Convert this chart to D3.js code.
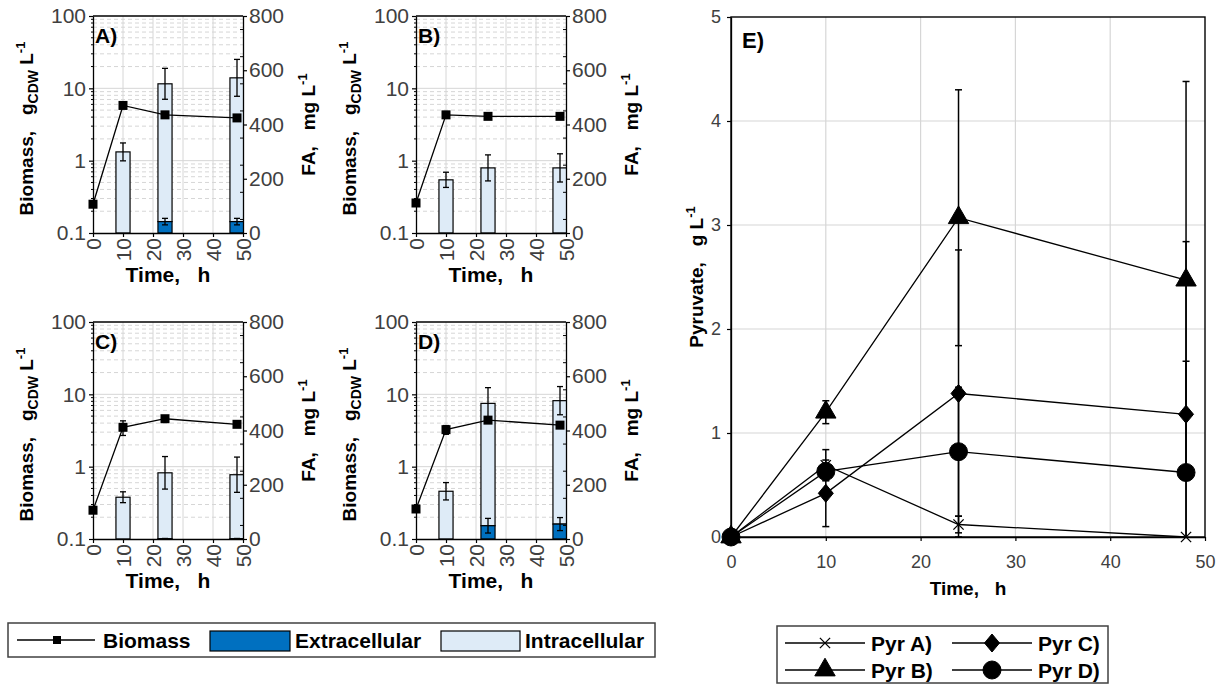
<!DOCTYPE html>
<html>
<head>
<meta charset="utf-8">
<script src="https://cdn.jsdelivr.net/npm/d3@7"></script>
<style>
  body { margin: 0; background: #fff; }
  svg { font-family: "Liberation Sans", Arial, sans-serif; }
</style>
</head>
<body>
<svg id="chart" width="1230" height="684"></svg>
<script>
// sampling times, h
const timePoints = [0, 10, 24, 48];
const faTimes = [10, 24, 48];

// biomass, g CDW / L
const biomassA = [0.25, 5.8, 4.3, 3.9];
const biomassB = [0.26, 4.3, 4.1, 4.1];
const biomassC = [0.25, 3.5, 4.6, 3.85];
const biomassD = [0.26, 3.25, 4.4, 3.75];
const biomassErrA = [0.02, 0.4, 0.3, 0.2];
const biomassErrB = [0.02, 0.3, 0.2, 0.2];
const biomassErrC = [0.02, 0.8, 0.3, 0.3];
const biomassErrD = [0.02, 0.45, 0.3, 0.3];

// fatty acids, mg / L (at 10, 24, 48 h)
const faExtraA = [0, 42, 42];
const faExtraErrA = [0, 12, 12];
const faIntraA = [299, 508, 530];
const faIntraErrA = [33, 57, 68];

const faExtraB = [0, 0, 0];
const faExtraErrB = [0, 0, 0];
const faIntraB = [196, 240, 240];
const faIntraErrB = [28, 48, 52];

const faExtraC = [0, 1, 1];
const faExtraErrC = [0, 1, 1];
const faIntraC = [154, 243, 236];
const faIntraErrC = [20, 60, 65];

const faExtraD = [0, 49, 55];
const faExtraErrD = [0, 27, 24];
const faIntraD = [176, 451, 455];
const faIntraErrD = [32, 58, 52];

// pyruvate, g / L
const pyrA = [0, 0.69, 0.12, 0.0];
const pyrAErr = [0, 0.15, 0.08, 0];
const pyrB = [0, 1.2, 3.07, 2.47];
const pyrBErr = [0, 0.11, 1.23, 1.91];
const pyrC = [0, 0.42, 1.38, 1.18];
const pyrCErr = [0, 0.32, 1.38, 1.66];
const pyrD = [0, 0.63, 0.82, 0.62];
const pyrDErr = [0, 0.08, 0.62, 1.07];

// ticks
const timeTicks = [0, 10, 20, 30, 40, 50];
const biomassTicks = [0.1, 1, 10, 100];
const faTicks = [0, 200, 400, 600, 800];
const pyrTicks = [0, 1, 2, 3, 4, 5];

const svg = d3.select("#chart");
const tickColor = "#404040";
const gridColor = "#d6d6d6";
const intraColor = "#deebf7";
const extraColor = "#0070c0";

const minorLog = [];
[0.1, 1, 10].forEach((dec) => d3.range(2, 10).forEach((k) => minorLog.push(dec * k)));

const styleAxis = (g, size) => {
  g.attr("font-family", null).attr("font-size", size);
  g.select(".domain").attr("stroke", "#000").attr("stroke-width", 1.3);
  g.selectAll(".tick line").attr("stroke", "#000").attr("stroke-width", 1.2);
  g.selectAll(".tick text").attr("fill", tickColor);
};

// Biomass / FA panels
const panels = [
  { id: "A", left: 93, top: 16, biomass: biomassA, biomassErr: biomassErrA, extra: faExtraA, extraErr: faExtraErrA, intra: faIntraA, intraErr: faIntraErrA },
  { id: "B", left: 416, top: 16, biomass: biomassB, biomassErr: biomassErrB, extra: faExtraB, extraErr: faExtraErrB, intra: faIntraB, intraErr: faIntraErrB },
  { id: "C", left: 93, top: 322, biomass: biomassC, biomassErr: biomassErrC, extra: faExtraC, extraErr: faExtraErrC, intra: faIntraC, intraErr: faIntraErrC },
  { id: "D", left: 416, top: 322, biomass: biomassD, biomassErr: biomassErrD, extra: faExtraD, extraErr: faExtraErrD, intra: faIntraD, intraErr: faIntraErrD },
];

const drawPanel = (p) => {
  const dims = { width: 150, height: 217 };
  const ctr = svg.append("g").attr("transform", `translate(${p.left},${p.top})`);

  const xScale = d3.scaleLinear().domain([0, 50]).range([0, dims.width]);
  const yScale = d3.scaleLog().domain([0.1, 100]).range([dims.height, 0]);
  const faScale = d3.scaleLinear().domain([0, 800]).range([dims.height, 0]);

  ctr.append("clipPath").attr("id", `clip-${p.id}`)
    .append("rect").attr("width", dims.width).attr("height", dims.height);

  // grid
  ctr.append("g").selectAll("line").data(minorLog).join("line")
    .attr("x1", 0).attr("x2", dims.width)
    .attr("y1", (d) => yScale(d)).attr("y2", (d) => yScale(d))
    .attr("stroke", gridColor).attr("stroke-dasharray", "4,3");
  ctr.append("g").selectAll("line").data([1, 10]).join("line")
    .attr("x1", 0).attr("x2", dims.width)
    .attr("y1", (d) => yScale(d)).attr("y2", (d) => yScale(d))
    .attr("stroke", gridColor);
  ctr.append("g").selectAll("line").data([10, 20, 30, 40]).join("line")
    .attr("x1", (d) => xScale(d)).attr("x2", (d) => xScale(d))
    .attr("y1", 0).attr("y2", dims.height)
    .attr("stroke", gridColor);

  // bars
  const barData = faTimes.map((t, i) => ({
    t, extra: p.extra[i], extraErr: p.extraErr[i], intra: p.intra[i], intraErr: p.intraErr[i],
  }));
  const halfW = 2.35;
  const bars = ctr.append("g").attr("clip-path", `url(#clip-${p.id})`);
  bars.selectAll("rect.intra").data(barData).join("rect").attr("class", "intra")
    .attr("x", (d) => xScale(d.t - halfW))
    .attr("width", xScale(2 * halfW) - xScale(0))
    .attr("y", (d) => faScale(d.extra + d.intra))
    .attr("height", (d) => faScale(d.extra) - faScale(d.extra + d.intra))
    .attr("fill", intraColor).attr("stroke", "#000").attr("stroke-width", 1.2);
  bars.selectAll("rect.extra").data(barData.filter((d) => d.extra > 0)).join("rect").attr("class", "extra")
    .attr("x", (d) => xScale(d.t - halfW))
    .attr("width", xScale(2 * halfW) - xScale(0))
    .attr("y", (d) => faScale(d.extra))
    .attr("height", (d) => faScale(0) - faScale(d.extra))
    .attr("fill", extraColor).attr("stroke", "#000").attr("stroke-width", 1.2);

  const errs = barData
    .flatMap((d) => [
      { t: d.t, v: d.extra + d.intra, e: d.intraErr },
      { t: d.t, v: d.extra, e: d.extraErr },
    ])
    .filter((d) => d.e > 0);
  const errG = ctr.append("g").attr("stroke", "#000").attr("stroke-width", 1.3);
  errG.selectAll("line.v").data(errs).join("line").attr("class", "v")
    .attr("x1", (d) => xScale(d.t)).attr("x2", (d) => xScale(d.t))
    .attr("y1", (d) => faScale(Math.max(0, d.v - d.e))).attr("y2", (d) => faScale(d.v + d.e));
  errG.selectAll("line.hi").data(errs).join("line").attr("class", "hi")
    .attr("x1", (d) => xScale(d.t) - 3).attr("x2", (d) => xScale(d.t) + 3)
    .attr("y1", (d) => faScale(d.v + d.e)).attr("y2", (d) => faScale(d.v + d.e));
  errG.selectAll("line.lo").data(errs.filter((d) => d.v - d.e > 0)).join("line").attr("class", "lo")
    .attr("x1", (d) => xScale(d.t) - 3).attr("x2", (d) => xScale(d.t) + 3)
    .attr("y1", (d) => faScale(d.v - d.e)).attr("y2", (d) => faScale(d.v - d.e));

  // biomass
  const bio = timePoints.map((t, i) => ({ t, v: p.biomass[i], e: p.biomassErr[i] }));
  ctr.append("path").datum(bio)
    .attr("d", d3.line().x((d) => xScale(d.t)).y((d) => yScale(d.v)))
    .attr("fill", "none").attr("stroke", "#000").attr("stroke-width", 1.3);
  const bioErr = ctr.append("g").attr("stroke", "#000").attr("stroke-width", 1.3);
  bioErr.selectAll("line.v").data(bio).join("line").attr("class", "v")
    .attr("x1", (d) => xScale(d.t)).attr("x2", (d) => xScale(d.t))
    .attr("y1", (d) => yScale(d.v - d.e)).attr("y2", (d) => yScale(d.v + d.e));
  bioErr.selectAll("line.c").data(bio.flatMap((d) => [{ t: d.t, y: d.v - d.e }, { t: d.t, y: d.v + d.e }])).join("line").attr("class", "c")
    .attr("x1", (d) => xScale(d.t) - 3).attr("x2", (d) => xScale(d.t) + 3)
    .attr("y1", (d) => yScale(d.y)).attr("y2", (d) => yScale(d.y));

  // axes
  ctr.append("line").attr("x1", 0).attr("x2", dims.width).attr("y1", 0).attr("y2", 0)
    .attr("stroke", "#000").attr("stroke-width", 1.3);

  const leftAxis = ctr.append("g")
    .call(d3.axisLeft(yScale).tickValues(biomassTicks).tickFormat(d3.format("~g")).tickSize(4).tickSizeOuter(0).tickPadding(3));
  styleAxis(leftAxis, 21);
  ctr.append("g").selectAll("line").data(minorLog).join("line")
    .attr("x1", -2).attr("x2", 0)
    .attr("y1", (d) => yScale(d)).attr("y2", (d) => yScale(d))
    .attr("stroke", "#000");

  const rightAxis = ctr.append("g").attr("transform", `translate(${dims.width},0)`)
    .call(d3.axisRight(faScale).tickValues(faTicks).tickSize(4).tickSizeOuter(0).tickPadding(2));
  styleAxis(rightAxis, 21);
  ctr.append("g").selectAll("line").data(d3.range(50, 800, 100)).join("line")
    .attr("x1", dims.width - 3).attr("x2", dims.width)
    .attr("y1", (d) => faScale(d)).attr("y2", (d) => faScale(d))
    .attr("stroke", "#000");

  const bottomAxis = ctr.append("g").attr("transform", `translate(0,${dims.height})`)
    .call(d3.axisBottom(xScale).tickValues(timeTicks).tickSize(4).tickSizeOuter(0));
  styleAxis(bottomAxis, 21);
  bottomAxis.selectAll(".tick text")
    .attr("transform", "rotate(-90)")
    .attr("x", -5).attr("y", 0).attr("dy", "0.36em")
    .attr("text-anchor", "end");

  // biomass markers on top
  ctr.append("g").selectAll("rect").data(bio).join("rect")
    .attr("x", (d) => xScale(d.t) - 4.5).attr("y", (d) => yScale(d.v) - 4.5)
    .attr("width", 9).attr("height", 9).attr("fill", "#000");

  // labels
  ctr.append("text").attr("x", 2).attr("y", 27)
    .attr("font-size", 21).attr("font-weight", "bold").text(`${p.id})`);

  ctr.append("text")
    .attr("x", dims.width / 2).attr("y", dims.height + 49)
    .attr("text-anchor", "middle").attr("font-size", 21).attr("font-weight", "bold")
    .style("white-space", "pre").text("Time,   h");

  const yl = ctr.append("text")
    .attr("transform", `translate(-60,${dims.height / 2 + 4}) rotate(-90)`)
    .attr("text-anchor", "middle").attr("font-size", 19).attr("font-weight", "bold")
    .style("white-space", "pre");
  yl.append("tspan").text("Biomass,   g");
  yl.append("tspan").attr("font-size", 14).attr("dy", 5).text("CDW");
  yl.append("tspan").attr("dy", -5).text(" L");
  yl.append("tspan").attr("font-size", 13).attr("dy", -8).text("-1");

  const yr = ctr.append("text")
    .attr("transform", `translate(${dims.width + 72},${dims.height / 2}) rotate(-90)`)
    .attr("text-anchor", "middle").attr("font-size", 19).attr("font-weight", "bold")
    .style("white-space", "pre");
  yr.append("tspan").text("FA,   mg L");
  yr.append("tspan").attr("font-size", 13).attr("dy", -8).text("-1");
};

panels.forEach(drawPanel);

// Pyruvate panel
const pyrSeries = [
  { name: "Pyr A)", values: pyrA, err: pyrAErr, symbol: d3.symbolX, size: 70, stroke: true },
  { name: "Pyr B)", values: pyrB, err: pyrBErr, symbol: d3.symbolTriangle, size: 180 },
  { name: "Pyr C)", values: pyrC, err: pyrCErr, symbol: { draw(ctx, size) { const r = Math.sqrt(size) / 2; ctx.moveTo(0, -r * 1.2); ctx.lineTo(r, 0); ctx.lineTo(0, r * 1.2); ctx.lineTo(-r, 0); ctx.closePath(); } }, size: 225 },
  { name: "Pyr D)", values: pyrD, err: pyrDErr, symbol: d3.symbolCircle, size: 254 },
];

const drawPyruvate = () => {
  const dims = { left: 731, top: 17, width: 474, height: 520 };
  const ctr = svg.append("g").attr("transform", `translate(${dims.left},${dims.top})`);
  const xScale = d3.scaleLinear().domain([0, 50]).range([0, dims.width]);
  const yScale = d3.scaleLinear().domain([0, 5]).range([dims.height, 0]);

  ctr.append("clipPath").attr("id", "clip-E")
    .append("rect").attr("width", dims.width).attr("height", dims.height);

  ctr.append("g").selectAll("line").data([1, 2, 3, 4]).join("line")
    .attr("x1", 0).attr("x2", dims.width)
    .attr("y1", (d) => yScale(d)).attr("y2", (d) => yScale(d))
    .attr("stroke", gridColor).attr("stroke-width", 1.2);
  ctr.append("g").selectAll("line").data([10, 20, 30, 40]).join("line")
    .attr("x1", (d) => xScale(d)).attr("x2", (d) => xScale(d))
    .attr("y1", 0).attr("y2", dims.height)
    .attr("stroke", gridColor).attr("stroke-width", 1.2);

  const line = d3.line().x((d) => xScale(d.t)).y((d) => yScale(d.v));
  pyrSeries.forEach((s) => {
    const pts = timePoints.map((t, i) => ({ t, v: s.values[i], e: s.err[i] }));
    ctr.append("path").datum(pts).attr("d", line)
      .attr("fill", "none").attr("stroke", "#000").attr("stroke-width", 1.3);
    const eg = ctr.append("g").attr("clip-path", "url(#clip-E)")
      .attr("stroke", "#000").attr("stroke-width", 1.5);
    const withErr = pts.filter((d) => d.e > 0);
    eg.selectAll("line.v").data(withErr).join("line").attr("class", "v")
      .attr("x1", (d) => xScale(d.t)).attr("x2", (d) => xScale(d.t))
      .attr("y1", (d) => yScale(d.v - d.e)).attr("y2", (d) => yScale(d.v + d.e));
    eg.selectAll("line.c").data(withErr.flatMap((d) => [{ t: d.t, y: d.v - d.e }, { t: d.t, y: d.v + d.e }])).join("line").attr("class", "c")
      .attr("x1", (d) => xScale(d.t) - 3.5).attr("x2", (d) => xScale(d.t) + 3.5)
      .attr("y1", (d) => yScale(d.y)).attr("y2", (d) => yScale(d.y));
    s.pts = pts;
  });

  ctr.append("rect").attr("width", dims.width).attr("height", dims.height)
    .attr("fill", "none").attr("stroke", "#000").attr("stroke-width", 1.4);

  const leftAxis = ctr.append("g")
    .call(d3.axisLeft(yScale).tickValues(pyrTicks).tickFormat(d3.format("d")).tickSize(4).tickSizeOuter(0).tickPadding(6));
  styleAxis(leftAxis, 18);
  const bottomAxis = ctr.append("g").attr("transform", `translate(0,${dims.height})`)
    .call(d3.axisBottom(xScale).tickValues(timeTicks).tickSize(4).tickSizeOuter(0).tickPadding(14));
  styleAxis(bottomAxis, 18);

  pyrSeries.forEach((s) => {
    ctr.append("g").selectAll("path").data(s.pts).join("path")
      .attr("transform", (d) => `translate(${xScale(d.t)},${yScale(d.v)})`)
      .attr("d", d3.symbol(s.symbol, s.size))
      .attr("fill", s.stroke ? "none" : "#000")
      .attr("stroke", "#000").attr("stroke-width", s.stroke ? 1.3 : 1);
  });

  ctr.append("text").attr("x", 11).attr("y", 31)
    .attr("font-size", 22).attr("font-weight", "bold").text("E)");

  ctr.append("text")
    .attr("x", dims.width / 2).attr("y", dims.height + 58)
    .attr("text-anchor", "middle").attr("font-size", 19).attr("font-weight", "bold")
    .style("white-space", "pre").text("Time,   h");

  const yl = ctr.append("text")
    .attr("transform", `translate(-28,${dims.height / 2}) rotate(-90)`)
    .attr("text-anchor", "middle").attr("font-size", 19).attr("font-weight", "bold")
    .style("white-space", "pre");
  yl.append("tspan").text("Pyruvate,   g L");
  yl.append("tspan").attr("font-size", 13).attr("dy", -8).text("-1");
};

drawPyruvate();

// Legend: biomass / FA
const legend1 = svg.append("g");
legend1.append("rect").attr("x", 8).attr("y", 623).attr("width", 647).attr("height", 34)
  .attr("fill", "#fff").attr("stroke", "#404040").attr("stroke-width", 1.5);
legend1.append("line").attr("x1", 17).attr("x2", 95).attr("y1", 640).attr("y2", 640)
  .attr("stroke", "#000").attr("stroke-width", 1.3);
legend1.append("rect").attr("x", 53).attr("y", 636).attr("width", 8).attr("height", 8).attr("fill", "#000");
legend1.append("rect").attr("x", 210).attr("y", 631).attr("width", 80).attr("height", 20)
  .attr("fill", extraColor).attr("stroke", "#000").attr("stroke-width", 1.2);
legend1.append("rect").attr("x", 441).attr("y", 631).attr("width", 79).attr("height", 20)
  .attr("fill", intraColor).attr("stroke", "#000").attr("stroke-width", 1.2);
legend1.selectAll("text").data([
  { x: 103, t: "Biomass" }, { x: 295, t: "Extracellular" }, { x: 525, t: "Intracellular" },
]).join("text")
  .attr("x", (d) => d.x).attr("y", 648)
  .attr("font-size", 21).attr("font-weight", "bold").text((d) => d.t);

// Legend: pyruvate
const legend2 = svg.append("g");
legend2.append("rect").attr("x", 777).attr("y", 626).attr("width", 331).attr("height", 57)
  .attr("fill", "#fff").attr("stroke", "#404040").attr("stroke-width", 1.5);
const legendPos = [
  { x: 785, y: 643 }, { x: 785, y: 670 }, { x: 952, y: 643 }, { x: 952, y: 670 },
];
pyrSeries.forEach((s, i) => {
  const pos = legendPos[i];
  const g = legend2.append("g").attr("transform", `translate(${pos.x},${pos.y})`);
  g.append("line").attr("x1", 0).attr("x2", 80).attr("stroke", "#000").attr("stroke-width", 1.3);
  g.append("path").attr("transform", "translate(40,0)")
    .attr("d", d3.symbol(s.symbol, s.size))
    .attr("fill", s.stroke ? "none" : "#000")
    .attr("stroke", "#000").attr("stroke-width", s.stroke ? 1.3 : 1);
  g.append("text").attr("x", 86).attr("y", 8)
    .attr("font-size", 21).attr("font-weight", "bold").text(s.name);
});
</script>
</body>
</html>
